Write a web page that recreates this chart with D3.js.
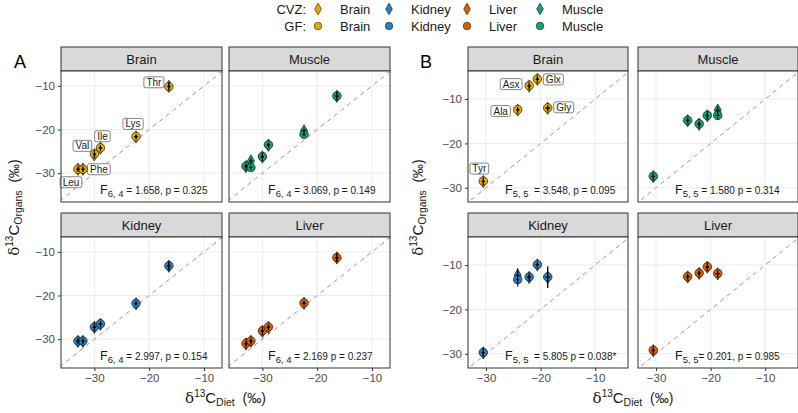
<!DOCTYPE html>
<html>
<head>
<meta charset="utf-8">
<script src="https://cdn.jsdelivr.net/npm/d3@7"></script>
<style>
body { margin: 0; background: #fff; }
text { font-family: "Liberation Sans", Arial, sans-serif; }
</style>
</head>
<body>
<script>
// ---- data ----
var tissues = ["Brain", "Kidney", "Liver", "Muscle"]
var tissueColors = ["#E6AB02", "#2C7FB8", "#D95F02", "#1B9E77"]
var facetOrder = ["Brain", "Muscle", "Kidney", "Liver"]

// panel A : essential amino acids
var aaA = ["Leu", "Phe", "Val", "Ile", "Lys", "Thr"]
var dietA = [-33.0, -32.1, -30.0, -28.9, -22.4, -16.4]
var dietSdA = [0.3, 0.3, 0.3, 0.3, 0.3, 0.3]
var brainA_cvz = [-29.1, -29.1, -25.8, -24.3, -21.7, -10.1]
var brainA_gf = [-29.1, -29.1, -25.6, -24.2, -21.6, -10.2]
var muscleA_cvz = [-28.5, -27.2, -26.3, -23.6, -20.3, -12.4]
var muscleA_gf = [-28.4, -28.7, -26.2, -23.5, -21.1, -12.3]
var kidneyA_cvz = [-30.5, -30.5, -27.3, -26.6, -21.9, -13.3]
var kidneyA_gf = [-30.4, -30.4, -27.2, -26.5, -21.8, -13.2]
var liverA_cvz = [-31.1, -30.5, -28.2, -27.3, -21.8, -11.4]
var liverA_gf = [-31.0, -30.4, -28.1, -27.2, -21.7, -11.3]
var organSdA = [0.6, 0.6, 0.8, 0.6, 0.5, 0.9]
var statsA = [
  ["Brain", "6, 4", " = 1.658, p = 0.325"],
  ["Muscle", "6, 4", " = 3.069, p = 0.149"],
  ["Kidney", "6, 4", " = 2.997, p = 0.154"],
  ["Liver", "6, 4", " = 2.169 p = 0.237"]
]
var labelOffsetA = [[-7, 13], [16, 0], [-12, -9], [2, -12], [-3, -13], [-15, -4]]

// panel B : non-essential amino acids
var aaB = ["Tyr", "Ala", "Asx", "Glx", "Gly"]
var dietB = [-30.5, -24.2, -22.1, -20.6, -18.7]
var dietSdB = [0.3, 0.3, 0.3, 0.3, 0.4]
var brainB_cvz = [-28.6, -12.5, -7.1, -5.6, -12.1]
var brainB_gf = [-28.5, -12.4, -7.0, -5.5, -12.0]
var muscleB_cvz = [-27.5, -14.9, -15.7, -13.8, -12.5]
var muscleB_gf = [-27.4, -14.8, -15.6, -13.7, -13.7]
var kidneyB_cvz = [-29.8, -12.3, -12.8, -10.0, -12.8]
var kidneyB_gf = [-29.7, -13.3, -12.7, -9.9, -12.7]
var liverB_cvz = [-29.3, -12.7, -11.9, -10.5, -12.0]
var liverB_gf = [-29.2, -12.6, -11.8, -10.4, -11.9]
var brainSdB = [0.8, 0.6, 0.7, 0.7, 0.6]
var muscleSdB = [0.7, 0.6, 0.6, 0.7, 0.9]
var kidneySdB = [0.9, 1.6, 0.8, 0.6, 2.4]
var liverSdB = [0.7, 0.6, 0.6, 0.8, 0.7]
var statsB = [
  ["Brain", "5, 5", "  = 3.548, p = 0.095"],
  ["Muscle", "5, 5", " = 1.580 p = 0.314"],
  ["Kidney", "5, 5", "  = 5.805 p = 0.038*"],
  ["Liver", "5, 5", "= 0.201, p = 0.985"]
]
var labelOffsetB = [[-4, -13], [-17, 1], [-18, -2], [16, 0], [16, -1]]

var xTicks = [-30, -20, -10]
var yTicks = [-30, -20, -10]

var organsA = {Brain: [brainA_cvz, brainA_gf], Muscle: [muscleA_cvz, muscleA_gf],
               Kidney: [kidneyA_cvz, kidneyA_gf], Liver: [liverA_cvz, liverA_gf]}
var sdA = {Brain: organSdA, Muscle: organSdA, Kidney: organSdA, Liver: organSdA}
var organsB = {Brain: [brainB_cvz, brainB_gf], Muscle: [muscleB_cvz, muscleB_gf],
               Kidney: [kidneyB_cvz, kidneyB_gf], Liver: [liverB_cvz, liverB_gf]}
var sdB = {Brain: brainSdB, Muscle: muscleSdB, Kidney: kidneySdB, Liver: liverSdB}

// ---- drawing ----
var svg = d3.select("body").append("svg")
  .attr("width", 798).attr("height", 413)

var color = d3.scaleOrdinal().domain(tissues).range(tissueColors)
var fmt = d => d3.format("d")(d).replace("-", "\u2212")

var diamond = d3.symbol().type(d3.symbolDiamond).size(44)

function drawFigure(cfg) {
  var g = svg.append("g")
  var x = d3.scaleLinear().domain(cfg.xDomain).range([0, cfg.pw])
  var y = d3.scaleLinear().domain(cfg.yDomain).range([cfg.ph, 0])

  facetOrder.forEach(function (tissue, k) {
    var col = k % 2, row = Math.floor(k / 2)
    var px = cfg.cols[col], py = cfg.rows[row]
    var p = g.append("g").attr("transform", "translate(" + px + "," + py + ")")

    // strip
    p.append("rect").attr("x", 0).attr("y", -cfg.strip).attr("width", cfg.pw).attr("height", cfg.strip)
      .attr("fill", "#d9d9d9").attr("stroke", "#333").attr("stroke-width", 1)
    p.append("text").attr("x", cfg.pw / 2).attr("y", -cfg.strip / 2 + 4.5)
      .attr("text-anchor", "middle").attr("font-size", 13).attr("fill", "#1a1a1a").text(tissue)

    // panel
    p.append("rect").attr("width", cfg.pw).attr("height", cfg.ph).attr("fill", "#fff")
    p.append("g").selectAll("line.gx").data(xTicks).join("line")
      .attr("x1", d => x(d)).attr("x2", d => x(d)).attr("y1", 0).attr("y2", cfg.ph)
      .attr("stroke", "#ebebeb").attr("stroke-width", 1)
    p.append("g").selectAll("line.gy").data(yTicks).join("line")
      .attr("y1", d => y(d)).attr("y2", d => y(d)).attr("x1", 0).attr("x2", cfg.pw)
      .attr("stroke", "#ebebeb").attr("stroke-width", 1)

    var clipId = "clip" + cfg.id + k
    p.append("clipPath").attr("id", clipId).append("rect").attr("width", cfg.pw).attr("height", cfg.ph)
    var inner = p.append("g").attr("clip-path", "url(#" + clipId + ")")

    // 1:1 line
    var lo = -40, hi = 0
    inner.append("line").attr("x1", x(lo)).attr("y1", y(lo)).attr("x2", x(hi)).attr("y2", y(hi))
      .attr("stroke", "#999").attr("stroke-width", 1).attr("stroke-dasharray", "4.5,4")

    // points
    var ys = cfg.organs[tissue]
    var sds = cfg.organSd[tissue]
    var pts = []
    cfg.diet.forEach(function (dx, i) {
      pts.push({x: dx, y: ys[0][i], sx: cfg.dietSd[i], sy: sds[i], shape: "cvz", i: i})
      pts.push({x: dx, y: ys[1][i], sx: cfg.dietSd[i], sy: sds[i], shape: "gf", i: i})
    })
    var pg = inner.append("g")
    pts.forEach(function (d) {
      var cx = x(d.x), cy = y(d.y)
      if (d.shape === "cvz") {
        pg.append("path").attr("d", diamond).attr("transform", "translate(" + cx + "," + cy + ")")
          .attr("fill", color(tissue)).attr("stroke", "#000").attr("stroke-width", 0.6)
      } else {
        pg.append("circle").attr("cx", cx).attr("cy", cy).attr("r", 4.3)
          .attr("fill", color(tissue)).attr("stroke", "#000").attr("stroke-width", 0.6)
      }
    })
    pts.forEach(function (d) {
      var cx = x(d.x), cy = y(d.y)
      pg.append("line").attr("x1", cx).attr("x2", cx).attr("y1", y(d.y - d.sy)).attr("y2", y(d.y + d.sy))
        .attr("stroke", "#000").attr("stroke-width", 1)
      pg.append("line").attr("x1", x(d.x - d.sx)).attr("x2", x(d.x + d.sx)).attr("y1", cy).attr("y2", cy)
        .attr("stroke", "#000").attr("stroke-width", 1)
    })

    // amino acid labels (brain only)
    if (tissue === "Brain") {
      cfg.aa.forEach(function (name, i) {
        var off = cfg.labelOffset[i]
        var lx = x(cfg.diet[i]) + off[0], ly = y(ys[0][i]) + off[1]
        var lg = p.append("g").attr("transform", "translate(" + lx + "," + ly + ")")
        var t = lg.append("text").attr("text-anchor", "middle").attr("y", 3.5)
          .attr("font-size", 10).attr("fill", "#1a1a1a").text(name)
        var w = t.node().getComputedTextLength()
        lg.insert("rect", "text").attr("x", -w / 2 - 2.5).attr("y", -5.5).attr("width", w + 5).attr("height", 11)
          .attr("rx", 2).attr("fill", "#fff").attr("stroke", "#333").attr("stroke-width", 0.6)
      })
    }

    // stats annotation
    var st = cfg.stats.find(s => s[0] === tissue)
    var tt = p.append("text").attr("x", cfg.statX).attr("y", cfg.ph - 8)
      .attr("fill", "#1a1a1a").style("white-space", "pre")
    tt.append("tspan").attr("font-size", 12.5).text("F")
    tt.append("tspan").attr("font-size", 9.5).attr("dy", 3).text(st[1])
    tt.append("tspan").attr("font-size", 10).attr("dy", -3).text(st[2])

    p.append("rect").attr("width", cfg.pw).attr("height", cfg.ph).attr("fill", "none")
      .attr("stroke", "#333").attr("stroke-width", 1)

    // axes
    if (col === 0) {
      var ya = p.append("g").call(d3.axisLeft(y).tickValues(yTicks).tickSize(3).tickFormat(fmt))
      ya.select(".domain").remove()
      ya.selectAll("line").attr("stroke", "#333")
      ya.selectAll("text").attr("font-size", 11.5).attr("fill", "#4d4d4d")
        .attr("font-family", "Liberation Sans, Arial, sans-serif")
    }
    if (row === 1) {
      var xa = p.append("g").attr("transform", "translate(0," + cfg.ph + ")")
        .call(d3.axisBottom(x).tickValues(xTicks).tickSize(3).tickFormat(fmt))
      xa.select(".domain").remove()
      xa.selectAll("line").attr("stroke", "#333")
      xa.selectAll("text").attr("font-size", 11.5).attr("fill", "#4d4d4d")
        .attr("font-family", "Liberation Sans, Arial, sans-serif")
    }
  })

  // panel letter
  g.append("text").attr("x", cfg.letterX).attr("y", 68).attr("font-size", 18).attr("fill", "#000").text(cfg.id)

  // axis titles
  var left = cfg.cols[0], right = cfg.cols[1] + cfg.pw
  var xt = g.append("text").attr("x", (left + right) / 2).attr("y", 403).attr("text-anchor", "middle")
    .attr("fill", "#1a1a1a").style("white-space", "pre")
  xt.append("tspan").attr("font-size", 15).attr("font-family", "DejaVu Serif, serif").text("\u03b4")
  xt.append("tspan").attr("font-size", 10).attr("dy", -6).text("13")
  xt.append("tspan").attr("font-size", 15).attr("dy", 6).text("C")
  xt.append("tspan").attr("font-size", 10.5).attr("dy", 3).text("Diet")
  xt.append("tspan").attr("font-size", 14).attr("dy", -3).text("  (\u2030)")

  var midY = (cfg.rows[0] - cfg.strip + cfg.rows[1] + cfg.ph) / 2
  var yt = g.append("text").attr("transform", "translate(" + cfg.yTitleX + "," + midY + ") rotate(-90)")
    .attr("text-anchor", "middle").attr("fill", "#1a1a1a").style("white-space", "pre")
  yt.append("tspan").attr("font-size", 15).attr("font-family", "DejaVu Serif, serif").text("\u03b4")
  yt.append("tspan").attr("font-size", 10).attr("dy", -6).text("13")
  yt.append("tspan").attr("font-size", 15).attr("dy", 6).text("C")
  yt.append("tspan").attr("font-size", 10.5).attr("dy", 3).text("Organs")
  yt.append("tspan").attr("font-size", 14).attr("dy", -3).text("  (\u2030)")
}

drawFigure({
  id: "A", cols: [61, 229], rows: [71, 237], pw: 161, ph: 131, strip: 24,
  xDomain: [-36.1, -6.7], yDomain: [-36.6, -6.6],
  aa: aaA, diet: dietA, dietSd: dietSdA, organs: organsA, organSd: sdA,
  stats: statsA, labelOffset: labelOffsetA, statX: 39, letterX: 14, yTitleX: 19
})
drawFigure({
  id: "B", cols: [468, 638], rows: [71, 237], pw: 160, ph: 131, strip: 24,
  xDomain: [-33.3, -4.0], yDomain: [-33.2, -3.7],
  aa: aaB, diet: dietB, dietSd: dietSdB, organs: organsB, organSd: sdB,
  stats: statsB, labelOffset: labelOffsetB, statX: 37, letterX: 420, yTitleX: 423
})

// legend
var legendX = [318, 389, 467, 540]
var lg = svg.append("g")
var rowsY = [9, 26]
var groupNames = ["CVZ:", "GF:"]
groupNames.forEach(function (gname, r) {
  lg.append("text").attr("x", 306).attr("y", rowsY[r] + 4.5).attr("text-anchor", "end")
    .attr("font-size", 13).attr("fill", "#1a1a1a").text(gname)
  tissues.forEach(function (t, i) {
    if (r === 0) {
      lg.append("path").attr("d", d3.symbol().type(d3.symbolDiamond).size(40))
        .attr("transform", "translate(" + legendX[i] + "," + rowsY[r] + ")")
        .attr("fill", color(t)).attr("stroke", "#000").attr("stroke-width", 0.5)
    } else {
      lg.append("circle").attr("cx", legendX[i]).attr("cy", rowsY[r]).attr("r", 3.8)
        .attr("fill", color(t)).attr("stroke", "#000").attr("stroke-width", 0.5)
    }
    lg.append("text").attr("x", legendX[i] + 22).attr("y", rowsY[r] + 4.5)
      .attr("font-size", 13).attr("fill", "#1a1a1a").text(t)
  })
})
</script>
</body>
</html>
